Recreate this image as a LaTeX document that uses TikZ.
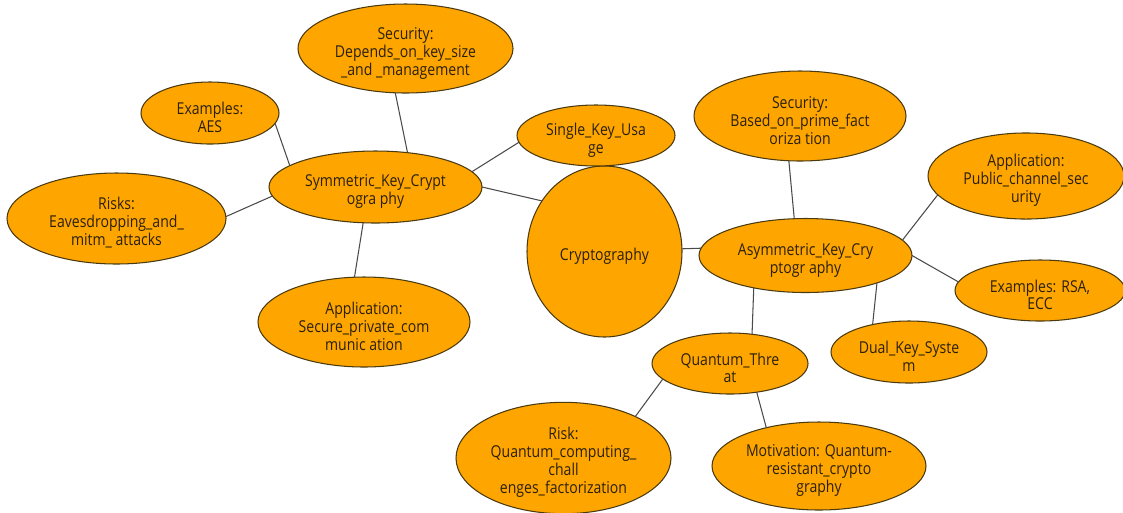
\documentclass[tikz,border=0pt]{standalone}
\usepackage{fontspec}
\setmainfont{Open Sans}[FakeStretch=0.86]
\usetikzlibrary{shapes.geometric}

\definecolor{bubfill}{HTML}{FFA500}
\definecolor{bubedge}{HTML}{4A3A10}
\definecolor{bubtext}{HTML}{2A200C}
\definecolor{linkcol}{HTML}{4A4A4A}

% raises the first line box so the label sits a little low in its ellipse
\newcommand\bubstrut{\rule{0pt}{12pt}}

\tikzset{
  bub/.style 2 args={ellipse, draw=bubedge, fill=bubfill, line width=0.6pt,
    inner sep=0pt, outer sep=0pt, align=center, text=bubtext,
    font=\fontsize{9.3}{10.2}\selectfont,
    minimum width=#1*0.02cm, minimum height=#2*0.02cm},
  link/.style={draw=linkcol, line width=0.6pt}
}

\begin{document}
\begin{tikzpicture}[x=0.02cm, y=-0.02cm]
\useasboundingbox (0,0) rectangle (1123,512);

% hub
\node[bub={155}{171}] (crypto) at (604.5,251.5) {\bubstrut Cryptography};

% symmetric branch
\node[bub={213}{72}]  (sym)    at (375.5,187)   {\bubstrut Symmetric\_Key\_Crypt\\ogra phy};
\node[bub={215}{89}]  (secS)   at (405.5,48.5)  {\bubstrut Security:\\Depends\_on\_key\_size\\\_and \_management};
\node[bub={138}{62}]  (aes)    at (210,113)     {\bubstrut Examples:\\AES};
\node[bub={158}{61}]  (single) at (596,135.5)   {\bubstrut Single\_Key\_Usa\\ge};
\node[bub={219}{91}]  (risks)  at (116.5,218.5) {\bubstrut Risks:\\Eavesdropping\_and\_\\mitm\_ attacks};
\node[bub={212}{90}]  (appS)   at (364,322)     {\bubstrut Application:\\Secure\_private\_com\\munic ation};

% asymmetric branch
\node[bub={213}{74}]  (asym)   at (805.5,255.5) {\bubstrut Asymmetric\_Key\_Cry\\ptogr aphy};
\node[bub={212}{90}]  (secA)   at (800,116)     {\bubstrut Security:\\Based\_on\_prime\_fact\\oriza tion};
\node[bub={196}{86}]  (appP)   at (1026,176)    {\bubstrut Application:\\Public\_channel\_sec\\urity};
\node[bub={170}{61}]  (rsa)    at (1040,290.5)  {\bubstrut Examples: RSA,\\ECC};
\node[bub={156}{62}]  (dual)   at (909,352)     {\bubstrut Dual\_Key\_Syste\\m};
\node[bub={156}{61}]  (qt)     at (730,363.5)   {\bubstrut Quantum\_Thre\\at};
\node[bub={215}{108}] (riskQ)  at (563.5,458)   {\bubstrut Risk:\\Quantum\_computing\_\\chall\\enges\_factorization};
\node[bub={214}{88}]  (motiv)  at (819,466)     {\bubstrut Motivation: Quantum-\\resistant\_crypto\\graphy};

% connectors
\draw[link] (aes.-9)    -- (sym.166);
\draw[link] (risks.1)   -- (sym.-175);
\draw[link] (secS.-103) -- (sym.47);
\draw[link] (sym.-109)  -- (appS.102);
\draw[link] (sym.9)     -- (single.-175);
\draw[link] (sym.-0.5)  -- (crypto.141);
\draw[link] (crypto.2)  -- (asym.176);
\draw[link] (secA.-104) -- (asym.107);
\draw[link] (asym.9)    -- (appP.-168.5);
\draw[link] (asym.-0.3) -- (rsa.174);
\draw[link] (asym.-21)  -- (dual.143);
\draw[link] (asym.-148) -- (qt.53);
\draw[link] (qt.-167)   -- (riskQ.30);
\draw[link] (qt.-47)    -- (motiv.144);
\end{tikzpicture}
\end{document}
